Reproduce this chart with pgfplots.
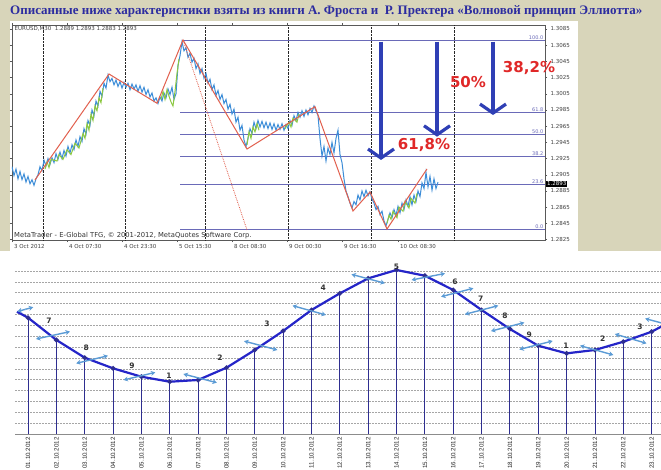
\documentclass[border=0pt]{standalone}
\usepackage{fontspec}
\setmainfont{DejaVu Sans}
\newfontfamily\titlefont{Liberation Serif}
\newfontfamily\datefont{Liberation Sans}
\usepackage{pgfplots}
\usepackage{pgfplotstable}
\pgfplotsset{compat=1.18}
\usetikzlibrary{arrows.meta}
\definecolor{khaki}{HTML}{D8D5BA}
\definecolor{titleblue}{HTML}{2C2CA0}
\definecolor{fibblue}{HTML}{6A6AB8}
\definecolor{barblue}{HTML}{3C8DD8}
\definecolor{bargreen}{HTML}{8CC840}
\definecolor{zigred}{HTML}{E2604E}
\definecolor{arrowblue}{HTML}{2F3FB5}
\definecolor{pctred}{HTML}{E02828}
\definecolor{curveblue}{HTML}{2525C8}
\definecolor{stemblue}{HTML}{2E2E90}
\definecolor{tanblue}{HTML}{5B9BD5}

\pgfplotstableread{
x y u v
0.905 11.47 0.28 0.20
1.88 9.08 0.60 0.34
3.26 6.85 0.56 0.35
4.93 5.32 0.56 0.35
7.07 5.12 0.59 -0.40
9.21 8.14 0.59 -0.41
10.92 11.38 0.59 -0.43
13.0 14.28 0.59 -0.41
15.12 14.47 0.59 0.30
16.14 13.02 0.57 0.39
17.0 11.41 0.59 0.40
17.92 9.86 0.59 0.39
18.92 8.17 0.59 0.39
21.06 7.70 0.59 -0.43
22.26 8.77 0.56 -0.43
23.36 10.21 0.59 -0.41
}\arrowtab

\begin{document}
\begin{tikzpicture}
\fill[white] (0pt,0pt) rectangle (661pt,-470pt);
\fill[khaki] (0pt,0pt) rectangle (661pt,-251pt);
\fill[white] (10pt,-21pt) rectangle (578pt,-251pt);
\node[anchor=west, font=\titlefont\bfseries\fontsize{13}{13}\selectfont, text=titleblue, inner sep=0] at (10pt,-11pt) {Описанные ниже характеристики взяты из книги А. Фроста и \ Р. Пректера «Волновой принцип Эллиотта»};

\begin{axis}[
  at={(12pt,-25pt)}, anchor=north west, scale only axis,
  width=533pt, height=215pt,
  xmin=12, xmax=545, ymin=1.28245, ymax=1.30899,
  axis line style={draw=black!65, line width=0.6pt},
  scaled y ticks=false,
  ytick={1.2825,1.2845,1.2865,1.2885,1.2905,1.2925,1.2945,1.2965,1.2985,1.3005,1.3025,1.3045,1.3065,1.3085},
  yticklabel pos=right,
  yticklabel style={font=\fontsize{5.5}{6}\selectfont, text=black!75, /pgf/number format/.cd, fixed, fixed zerofill, precision=4, assume math mode=true},
  xtick={12,67,122,177,232,287,342,398},
  xticklabels={3 Oct 2012, 4 Oct 07:30, 4 Oct 23:30, 5 Oct 15:30, 8 Oct 08:30, 9 Oct 00:30, 9 Oct 16:30, 10 Oct 08:30},
  xticklabel style={anchor=north west, xshift=-1.5pt, yshift=1pt, font=\fontsize{5.5}{6}\selectfont, text=black!75},
  tick align=outside, major tick length=2pt, tick style={black!65},
  extra x ticks={43,125,205,288,371,454}, extra x tick labels={},
  extra x tick style={grid=major, major grid style={black!85, densely dotted, line width=0.5pt}, major tick length=0pt},
  clip mode=individual,
]
% Fibonacci levels
\addplot[fibblue, line width=0.7pt] coordinates {(182,1.30714) (545,1.30714)};
\addplot[fibblue, line width=0.7pt] coordinates {(180,1.29823) (545,1.29823)};
\addplot[fibblue, line width=0.7pt] coordinates {(180,1.29548) (545,1.29548)};
\addplot[fibblue, line width=0.7pt] coordinates {(180,1.29272) (545,1.29272)};
\addplot[fibblue, line width=0.7pt] coordinates {(180,1.28932) (545,1.28932)};
\addplot[fibblue, line width=0.7pt] coordinates {(180,1.28381) (545,1.28381)};
% price
\addplot[barblue, line width=1pt] coordinates {
(12,1.2915) (14,1.2904) (16,1.2912) (18,1.2900) (20,1.2909) (22,1.2899) (24,1.2906) (26,1.2896) (28,1.2903) (30,1.2894)
(32,1.2899) (34,1.2892) (36,1.2900) (38,1.2905) (40,1.2915) (42,1.2910) (44,1.2923) (46,1.2916) (48,1.2925) (50,1.2918)
(52,1.2926) (54,1.2920) (56,1.2931) (58,1.2924) (60,1.2933) (62,1.2925) (64,1.2935) (66,1.2928) (68,1.2940) (70,1.2932)
(72,1.2942) (74,1.2936) (76,1.2948) (78,1.2940) (80,1.2952) (82,1.2946) (84,1.2962) (86,1.2955) (88,1.2972) (90,1.2966)
(92,1.2985) (94,1.2978) (96,1.2996) (98,1.2990) (100,1.3008) (102,1.3002) (104,1.3018) (106,1.3012) (108,1.3028) (110,1.3020)
(112,1.3024) (114,1.3016) (116,1.3022) (118,1.3014) (120,1.3020) (122,1.3012) (124,1.3019) (126,1.3013) (128,1.3018) (130,1.3010)
(132,1.3017) (134,1.3011) (136,1.3016) (138,1.3008) (140,1.3015) (142,1.3007) (144,1.3013) (146,1.3004) (148,1.3010) (150,1.3001)
(152,1.3006) (154,1.2996) (156,1.3000) (158,1.2993) (160,1.3001) (162,1.2996) (164,1.3006) (166,1.3000) (168,1.3011) (170,1.3004)
(172,1.3013) (174,1.2998) (176,1.3005) (178,1.3040) (180,1.3052) (182,1.3069) (184,1.3058) (186,1.3062) (188,1.3050) (190,1.3055)
(192,1.3044) (194,1.3049) (196,1.3036) (198,1.3042) (200,1.3030) (202,1.3036) (204,1.3024) (206,1.3030) (208,1.3018) (210,1.3023)
(212,1.3010) (214,1.3016) (216,1.3003) (218,1.3009) (220,1.2998) (222,1.3004) (224,1.2993) (226,1.2998) (228,1.2986) (230,1.2992)
(232,1.2980) (234,1.2986) (236,1.2970) (238,1.2976) (240,1.2960) (242,1.2966) (244,1.2948) (246,1.2940) (248,1.2950) (250,1.2962)
(252,1.2956) (254,1.2970) (256,1.2962) (258,1.2972) (260,1.2964) (262,1.2971) (264,1.2963) (266,1.2970) (268,1.2962) (270,1.2969)
(272,1.2961) (274,1.2968) (276,1.2960) (278,1.2967) (280,1.2961) (282,1.2968) (284,1.2960) (286,1.2967) (288,1.2962) (290,1.2972)
(292,1.2966) (294,1.2978) (296,1.2972) (298,1.2982) (300,1.2976) (302,1.2984) (304,1.2977) (306,1.2985) (308,1.2979) (310,1.2987)
(312,1.2982) (314,1.2990) (316,1.2984) (318,1.2978) (320,1.2950) (322,1.2928) (324,1.2940) (326,1.2922) (328,1.2938) (330,1.2930)
(332,1.2945) (334,1.2932) (336,1.2950) (338,1.2960) (340,1.2930) (342,1.2920) (344,1.2900) (346,1.2885) (348,1.2878) (350,1.2870)
(352,1.2864) (354,1.2872) (356,1.2868) (358,1.2880) (360,1.2874) (362,1.2885) (364,1.2878) (366,1.2886) (368,1.2879) (370,1.2884)
(372,1.2875) (374,1.2870) (376,1.2862) (378,1.2866) (380,1.2856) (382,1.2860) (384,1.2848) (386,1.2842) (388,1.2850) (390,1.2858)
(392,1.2852) (394,1.2862) (396,1.2855) (398,1.2866) (400,1.2858) (402,1.2870) (404,1.2862) (406,1.2874) (408,1.2866) (410,1.2878)
(412,1.2868) (414,1.2880) (416,1.2872) (418,1.2885) (420,1.2878) (422,1.2895) (424,1.2888) (426,1.2908) (428,1.2890) (430,1.2903)
(432,1.2886) (434,1.2900) (436,1.2888) (438,1.2896)
};
\addplot[bargreen, line width=1pt, unbounded coords=jump] coordinates {
(45,1.2912) (47,1.2921) (49,1.2914) (51,1.2924) (57,1.2922) (59,1.2930) (63,1.2924) (67,1.2936) (71,1.2930) (75,1.2944)
(79,1.2938) (83,1.2956) (85,1.2950) (87,1.2968) (89,1.2960) (91,1.2980) (93,1.2972) (95,1.2990) (97,1.2984) (99,1.3000)
(101,1.2994) (103,1.3012) (103,nan)
(161,1.2998) (163,1.3008) (165,1.2998) (167,1.3010) (169,1.3002) (171,1.2995) (173,1.2990) (175,1.3008) (177,1.3030) (179,1.3048) (179,nan)
(247,1.2942) (249,1.2958) (251,1.2950) (253,1.2964) (255,1.2958) (257,1.2968) (259,1.2960) (259,nan)
(285,1.2962) (289,1.2970) (291,1.2964) (293,1.2975) (297,1.2970) (299,1.2980) (299,nan)
(387,1.2845) (389,1.2855) (391,1.2850) (393,1.2860) (397,1.2852) (399,1.2865) (403,1.2860) (405,1.2872) (409,1.2864) (411,1.2876) (415,1.2870) (417,1.2882)
};
% Elliott zigzag
\addplot[zigred, line width=1pt] coordinates {
(35,1.28986) (109,1.30294) (157,1.29933) (183,1.30714) (247,1.29368) (315,1.29891) (353,1.28603) (370,1.28838) (387,1.28381) (427,1.29122)
};
\addplot[zigred, line width=0.8pt, densely dotted] coordinates {(183,1.30714) (247,1.28369)};
% retracement arrows
\addplot[arrowblue, line width=3.2pt, -{Straight Barb[length=9pt, width=26pt]}] coordinates {(381,1.30693) (381,1.29233)};
\addplot[arrowblue, line width=3.2pt, -{Straight Barb[length=9pt, width=26pt]}] coordinates {(437,1.30693) (437,1.29520)};
\addplot[arrowblue, line width=3.2pt, -{Straight Barb[length=9pt, width=26pt]}] coordinates {(493,1.30693) (493,1.29788)};
\node[font=\bfseries\fontsize{15}{15}\selectfont, text=pctred] at (axis cs:424,1.29418) {61,8\%};
\node[font=\bfseries\fontsize{15}{15}\selectfont, text=pctred] at (axis cs:468,1.30192) {50\%};
\node[font=\bfseries\fontsize{15}{15}\selectfont, text=pctred] at (axis cs:529,1.30372) {38,2\%};
% level labels
\node[anchor=south east, font=\fontsize{5}{5}\selectfont, text=fibblue, inner sep=0.6pt] at (axis cs:544,1.30714) {100.0};
\node[anchor=south east, font=\fontsize{5}{5}\selectfont, text=fibblue, inner sep=0.6pt] at (axis cs:544,1.29823) {61.8};
\node[anchor=south east, font=\fontsize{5}{5}\selectfont, text=fibblue, inner sep=0.6pt] at (axis cs:544,1.29548) {50.0};
\node[anchor=south east, font=\fontsize{5}{5}\selectfont, text=fibblue, inner sep=0.6pt] at (axis cs:544,1.29272) {38.2};
\node[anchor=south east, font=\fontsize{5}{5}\selectfont, text=fibblue, inner sep=0.6pt] at (axis cs:544,1.28932) {23.6};
\node[anchor=south east, font=\fontsize{5}{5}\selectfont, text=fibblue, inner sep=0.6pt] at (axis cs:544,1.28381) {0.0};
\node[anchor=north west, font=\fontsize{5.5}{6}\selectfont, text=black!75, inner sep=1.5pt] at (axis cs:13,1.30899) {EURUSD,M30 \ 1.2889 1.2893 1.2883 1.2893};
\node[anchor=south west, font=\fontsize{6.8}{7}\selectfont, text=black!80, inner sep=1pt] at (axis cs:13,1.28245) {MetaTrader - E-Global TFG, © 2001-2012, MetaQuotes Software Corp.};
\node[anchor=west, fill=black, text=white, font=\fontsize{5.5}{6}\selectfont, inner sep=1pt] at (axis cs:546,1.2894) {1.2893};
\end{axis}

\begin{axis}[
  at={(15pt,-260.1pt)}, anchor=north west, scale only axis,
  width=646pt, height=173.9pt,
  xmin=0.54, xmax=23.33, ymin=0, ymax=16,
  axis line style={draw=none},
  ytick={0,...,15}, yticklabels={}, ymajorgrids,
  major grid style={black!35, dash pattern=on 2pt off 1pt, line width=0.45pt},
  xtick={1,...,23},
  xticklabels={01.10.2012,02.10.2012,03.10.2012,04.10.2012,05.10.2012,06.10.2012,07.10.2012,08.10.2012,09.10.2012,10.10.2012,11.10.2012,12.10.2012,13.10.2012,14.10.2012,15.10.2012,16.10.2012,17.10.2012,18.10.2012,19.10.2012,20.10.2012,21.10.2012,22.10.2012,23.10.2012},
  xticklabel style={rotate=90, anchor=east, font=\datefont\fontsize{6.2}{6.2}\selectfont, text=black!85},
  major tick length=0pt,
  clip mode=individual,
]
\addplot[black!45, line width=0.6pt] coordinates {(0.54,0) (23.33,0)};
\addplot[ycomb, stemblue, line width=0.9pt] coordinates {
(1,10.70) (2,8.65) (3,7.02) (4,6.04) (5,5.27) (6,4.81) (7,4.97) (8,6.10) (9,7.73) (10,9.48) (11,11.41) (12,12.94)
(13,14.32) (14,15.09) (15,14.56) (16,13.25) (17,11.41) (18,9.66) (19,8.12) (20,7.42) (21,7.73) (22,8.49) (23,9.41)
};
\addplot[curveblue, line width=2.2pt, mark=*, mark size=1.1pt, mark options={fill=stemblue, draw=stemblue}, mark indices={2,...,24}] coordinates {
(0.61,11.25) (1,10.70) (2,8.65) (3,7.02) (4,6.04) (5,5.27) (6,4.81) (7,4.97) (8,6.10) (9,7.73) (10,9.48) (11,11.41) (12,12.94)
(13,14.32) (14,15.09) (15,14.56) (16,13.25) (17,11.41) (18,9.66) (19,8.12) (20,7.42) (21,7.73) (22,8.49) (23,9.41) (23.33,9.87)
};
\addplot[tanblue, line width=1.4pt, -{Stealth[length=4.5pt,width=5pt]}, quiver={u=\thisrow{u}, v=\thisrow{v}}] table[x=x,y=y] {\arrowtab};
\addplot[tanblue, line width=1.4pt, -{Stealth[length=4.5pt,width=5pt]}, quiver={u=-\thisrow{u}, v=-\thisrow{v}}] table[x=x,y=y] {\arrowtab};
\begin{scope}[every node/.style={font=\bfseries\fontsize{7.5}{7.5}\selectfont, text=black!80}]
\node at (axis cs:1.74,10.40) {7};
\node at (axis cs:3.05,7.94) {8};
\node at (axis cs:4.67,6.26) {9};
\node at (axis cs:5.97,5.36) {1};
\node at (axis cs:7.77,7.02) {2};
\node at (axis cs:9.43,10.12) {3};
\node at (axis cs:11.41,13.50) {4};
\node at (axis cs:14.0,15.39) {5};
\node at (axis cs:16.06,14.01) {6};
\node at (axis cs:16.97,12.42) {7};
\node at (axis cs:17.83,10.86) {8};
\node at (axis cs:18.68,9.17) {9};
\node at (axis cs:19.98,8.10) {1};
\node at (axis cs:21.27,8.74) {2};
\node at (axis cs:22.59,9.84) {3};
\end{scope}
\end{axis}
\pgfresetboundingbox
\useasboundingbox (0pt,0pt) rectangle (661pt,-470pt);
\end{tikzpicture}
\end{document}
